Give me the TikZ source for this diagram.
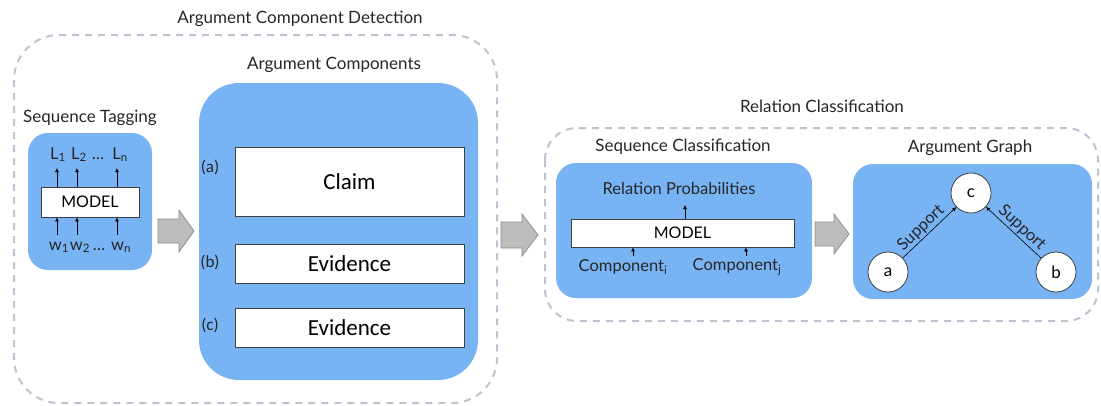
\documentclass[tikz,border=0pt]{standalone}
\usepackage{fontspec}
\setmainfont{Lato}
\newfontfamily\calib{Carlito}
\usetikzlibrary{arrows.meta}
\definecolor{boxblue}{HTML}{78B4F4}
\definecolor{dashgray}{HTML}{BCC4D2}
\definecolor{arrgray}{HTML}{BDBDBD}
\definecolor{arredge}{HTML}{8A8A8A}
\definecolor{txt}{HTML}{262626}
\tikzset{
  grp/.style={draw=dashgray, line width=2pt, dash pattern=on 7pt off 6pt, rounded corners=45pt},
  bluebox/.style={fill=boxblue, draw=none, inner sep=0pt},
  whitebox/.style={fill=white, draw=black!75, line width=0.8pt, inner sep=0pt},
  title/.style={font=\fontsize{17}{19}\selectfont, text=txt, inner sep=0pt},
  lab/.style={font=\fontsize{16.5}{18}\selectfont, text=txt, inner sep=0pt},
  comp/.style={font=\calib\fontsize{23}{25}\selectfont, text=black},
  letter/.style={font=\calib\fontsize{17}{19}\selectfont, text=txt, inner sep=0pt},
  smallarr/.style={-{Latex[length=4pt,width=4pt]}, line width=0.6pt, draw=black},
  blockarr/.style={fill=arrgray, draw=arredge, line width=0.7pt},
  circ/.style={circle, fill=white, draw=black!75, line width=0.8pt, minimum size=40pt, inner sep=0pt, font=\fontsize{17}{19}\selectfont},
}
\begin{document}
\begin{tikzpicture}[x=1pt,y=-1pt]
\useasboundingbox (0,0) rectangle (1101,405);

% group frames
\draw[grp] (14,35) rectangle (497,403);
\node[title] (t1) at (300,19) {Argument Component Detection};
\draw[grp, rounded corners=32pt] (545,128) rectangle (1098,321);
\node[title] (t2) at (822,106) {Relation Classification};

% Sequence tagging
\node[title] (tst) at (90,118) {Sequence Tagging};
\node[bluebox, rounded corners=20pt, minimum width=124pt, minimum height=137pt] (st) at (90,201.5) {};
\node[whitebox, minimum width=98pt, minimum height=30pt, font=\fontsize{16}{18}\selectfont] (m1) at (90,202) {MODEL};
\node[lab, anchor=base] (l1) at (58,159) {L\textsubscript{1}};
\node[lab, anchor=base] (l2) at (79,159) {L\textsubscript{2}};
\node[lab, anchor=base] (ld) at (98,159) {\dots};
\node[lab, anchor=base] (ln) at (120,159) {L\textsubscript{n}};
\node[lab, anchor=base] (w1) at (59,250) {w\textsubscript{1}};
\node[lab, anchor=base] (w2) at (80,250) {w\textsubscript{2}};
\node[lab, anchor=base] (wd) at (99,250) {\dots};
\node[lab, anchor=base] (wn) at (121,250) {w\textsubscript{n}};
\coordinate (ta1) at (57,168); \coordinate (ta2) at (77,168); \coordinate (ta3) at (117,168);
\coordinate (ba1) at (57,235); \coordinate (ba2) at (77,235); \coordinate (ba3) at (117,235);
\draw[smallarr] (m1.north -| ta1) -- (ta1);
\draw[smallarr] (m1.north -| ta2) -- (ta2);
\draw[smallarr] (m1.north -| ta3) -- (ta3);
\draw[smallarr] (ba1) -- (m1.south -| ba1);
\draw[smallarr] (ba2) -- (m1.south -| ba2);
\draw[smallarr] (ba3) -- (m1.south -| ba3);

% block arrow 1
\draw[blockarr] (158,219) -- (179,219) -- (179,210) -- (194,231) -- (179,252) -- (179,243) -- (158,243) -- cycle;

% Argument components
\node[title] (tac) at (334,65) {Argument Components};
\node[bluebox, rounded corners=40pt, minimum width=279pt, minimum height=297pt] (ac) at (338.5,231.5) {};
\node[whitebox, comp, minimum width=229pt, minimum height=69pt] (claim) at (349.5,181.5) {Claim};
\node[whitebox, comp, minimum width=229pt, minimum height=39pt] (ev1) at (349.5,263.5) {Evidence};
\node[whitebox, comp, minimum width=229pt, minimum height=39pt] (ev2) at (349.5,327.5) {Evidence};
\node[letter] (la) at (210,167) {(a)};
\node[letter] (lb) at (210,262) {(b)};
\node[letter] (lc) at (210,325) {(c)};

% block arrow 2
\draw[blockarr] (501,222) -- (522,222) -- (522,214) -- (538,235) -- (522,256) -- (522,248) -- (501,248) -- cycle;

% Sequence classification
\node[title] (tsc) at (683,147) {Sequence Classification};
\node[bluebox, rounded corners=20pt, minimum width=256pt, minimum height=135pt] (sc) at (684,230.5) {};
\node[whitebox, minimum width=223pt, minimum height=28pt, font=\fontsize{16}{18}\selectfont] (m2) at (682.5,233) {MODEL};
\node[lab] (rp) at (679,188) {Relation Probabilities};
\coordinate (rpa) at (685,205);
\draw[smallarr] (m2.north -| rpa) -- (rpa);
\node[lab] (ci) at (623,267) {Component\textsubscript{i}};
\node[lab] (cj) at (737,267) {Component\textsubscript{j}};
\coordinate (cia) at (633,256); \coordinate (cja) at (746,256);
\draw[smallarr] (cia) -- (m2.south -| cia);
\draw[smallarr] (cja) -- (m2.south -| cja);

% block arrow 3
\draw[blockarr] (815,222) -- (834,222) -- (834,214) -- (849,234) -- (834,254) -- (834,246) -- (815,246) -- cycle;

% Argument graph
\node[title] (tag) at (970,148) {Argument Graph};
\node[bluebox, rounded corners=20pt, minimum width=239pt, minimum height=135pt] (ag) at (972.5,231.5) {};
\node[circ] (c) at (971,193) {c};
\node[circ] (a) at (888,272) {a};
\node[circ] (b) at (1056,272) {b};
\draw[smallarr] (a) -- node[lab, pos=0.46, sloped, above=1.5pt] (s1) {Support} (c);
\draw[smallarr] (b) -- node[lab, pos=0.46, sloped, above=1.5pt] (s2) {Support} (c);
\end{tikzpicture}
\end{document}
